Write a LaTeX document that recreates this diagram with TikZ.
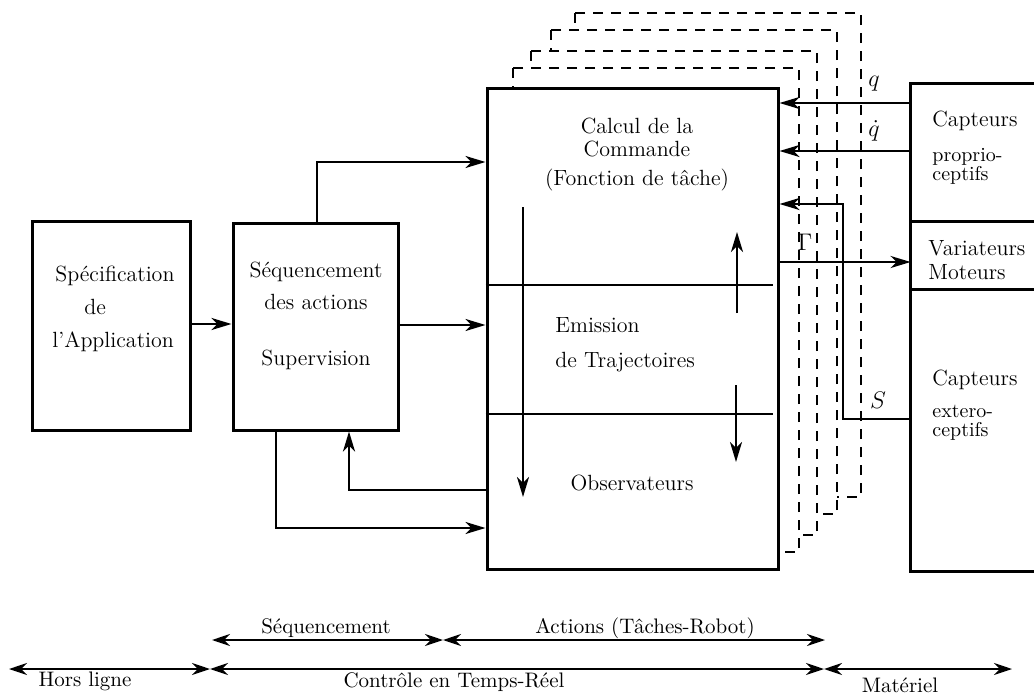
\documentclass[tikz,border=0pt]{standalone}
\usepackage{fontspec}
\usetikzlibrary{arrows.meta,fit}
\begin{document}
\begin{tikzpicture}[x=0.5pt,y=-0.5pt,
  box/.style={draw, line width=1.5pt, inner sep=0pt},
  thindiv/.style={line width=0.6pt},
  arr/.style={line width=1.3pt, -{Stealth[length=10pt,width=6pt,inset=3pt]}},
  dashbox/.style={line width=0.9pt, dash pattern=on 5pt off 4pt, fill=white},
  lbl/.style={font=\fontsize{11}{13}\selectfont, inner sep=0pt},
  blbl/.style={font=\fontsize{10.5}{12}\selectfont, inner sep=0pt},
  mlbl/.style={font=\fontsize{13}{15}\selectfont, inner sep=0pt},
  dim/.style={line width=1.2pt, {Stealth[length=9pt,width=6pt,inset=3pt]}-{Stealth[length=9pt,width=6pt,inset=3pt]}},
]
\useasboundingbox (0,0) rectangle (1034,696);

% dashed copies of the action block (back to front)
\foreach \l/\t in {575/13, 551/30, 531/51, 513/68}
  \draw[dashbox] (\l,\t) rectangle ++(286,484);

% main blocks
\node[box, fill=white, fit={(487,88)(778,569)}] (main) {};
\node[box, fit={(32,221)(190,430)}] (spec) {};
\node[box, fit={(233,223)(398,430)}] (seq) {};

% sensor column
\node[inner sep=0pt, fit={(911,84)(1034,222)}] (prop) {};
\node[inner sep=0pt, fit={(911,222)(1034,289)}] (var) {};
\node[inner sep=0pt, fit={(911,289)(1034,571)}] (ext) {};
\draw[line width=1.5pt] (prop.north east) -- (prop.north west) -- (ext.south west) -- (ext.south east);
\draw[line width=1.2pt] (var.north west) -- (var.north east) (var.south west) -- (var.south east);

% dividers in main block
\coordinate (d1) at (773,285);
\coordinate (d2) at (773,414);
\draw[thindiv] (main.west |- d1) -- (d1);
\draw[thindiv] (main.west |- d2) -- (d2);

% texts
\node[align=left, anchor=west, font=\fontsize{11}{16.5}\selectfont, inner sep=0pt] (spectxt) at (52,309)
  {\hspace*{1.5pt}Spécification\\\hspace*{16pt}de\\l'Application};
\node[align=center, font=\fontsize{11}{16}\selectfont, inner sep=0pt] (seqtxt) at (316,316)
  {Séquencement\\des actions\\[12pt]Supervision};
\node[align=center, font=\fontsize{11}{11.5}\selectfont, inner sep=0pt] (calc) at (637,155)
  {Calcul de la\\Commande\\[3pt](Fonction de tâche)};
\node[align=left, anchor=west, font=\fontsize{11}{17.5}\selectfont, inner sep=0pt] (emis) at (555,345)
  {Emission\\de Trajectoires};
\node[lbl] (obs) at (632,483) {Observateurs};

\node[lbl, anchor=west] (cap1) at (932,121) {Capteurs};
\node[align=left, anchor=west, font=\fontsize{10}{10}\selectfont, inner sep=0pt] (pp) at (932,166)
  {proprio-\\[-0.5pt]ceptifs};
\node[align=left, anchor=west, font=\fontsize{11}{12}\selectfont, inner sep=0pt] (vartxt) at (928,260)
  {Variateurs\\Moteurs};
\node[lbl, anchor=west] (cap2) at (932,380) {Capteurs};
\node[align=left, anchor=west, font=\fontsize{10}{10}\selectfont, inner sep=0pt] (ee) at (932,423)
  {extero-\\[-0.5pt]ceptifs};

\node[mlbl] (lq) at (874,84) {$q$};
\node[mlbl] (lqd) at (874,131) {$\dot q$};
\node[mlbl] (lG) at (805,242) {$\Gamma$};
\node[mlbl] (lS) at (878,400) {$S$};

% connectors on the left
\coordinate (ys) at (0,324);
\draw[arr] (spec.east |- ys) -- (seq.west |- ys);
\coordinate (xa) at (317,162);
\draw[arr] (seq.north -| xa) |- (main.west |- xa);
\coordinate (ymid) at (0,325);
\draw[arr] (seq.east |- ymid) -- (main.west |- ymid);
\coordinate (fb) at (349,490);
\draw[arr] (main.west |- fb) -| (seq.south -| fb);
\coordinate (lo) at (276,528);
\draw[arr] (seq.south -| lo) |- (main.west |- lo);

% internal arrows
\coordinate (a1s) at (523,207); \coordinate (a1e) at (523,497);
\coordinate (a2s) at (737,313); \coordinate (a2e) at (737,232);
\coordinate (a3s) at (736,385); \coordinate (a3e) at (736,462);
\draw[arr] (a1s) -- (a1e);
\draw[arr] (a2s) -- (a2e);
\draw[arr] (a3s) -- (a3e);

% connectors on the right
\coordinate (yq) at (0,103);
\coordinate (yqd) at (0,151);
\coordinate (yT) at (0,262);
\coordinate (sb) at (843,419);
\coordinate (st) at (843,204);
\draw[arr] (prop.west |- yq) -- (main.east |- yq);
\draw[arr] (prop.west |- yqd) -- (main.east |- yqd);
\draw[arr] (main.east |- yT) -- (var.west |- yT);
\draw[arr] (ext.west |- sb) -- (sb) -- (st) -- (main.east |- st);

% bottom scale
\coordinate (s1) at (212,640); \coordinate (s2) at (443,640); \coordinate (s3) at (825,640);
\coordinate (h1) at (9,669); \coordinate (h2) at (210,669); \coordinate (h3) at (824,669); \coordinate (h4) at (1012,669);
\draw[dim] (s1) -- (s2);
\draw[dim] (s2) -- (s3);
\draw[dim] (h1) -- (h2);
\draw[dim] (h2) -- (h3);
\draw[dim] (h3) -- (h4);
\node[blbl] (bseq) at (326,628) {Séquencement};
\node[blbl] (bact) at (645,628) {Actions (Tâches-Robot)};
\node[blbl] (bhl) at (85,681) {Hors ligne};
\node[blbl] (bctr) at (454,682) {Contrôle en Temps-Réel};
\node[blbl] (bmat) at (900,685) {Matériel};
\end{tikzpicture}
\end{document}
